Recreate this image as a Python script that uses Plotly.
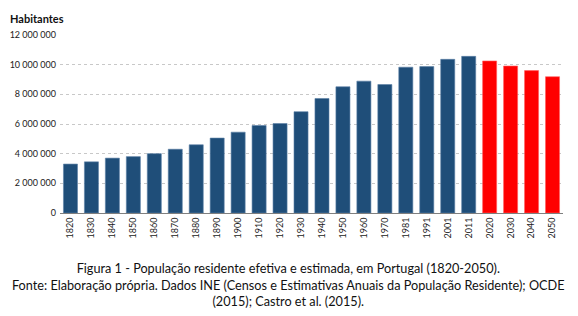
import plotly.graph_objects as go

years = ["1820", "1830", "1840", "1850", "1860", "1870", "1880", "1890", "1900", "1910",
         "1920", "1930", "1940", "1950", "1960", "1970", "1981", "1991", "2001", "2011",
         "2020", "2030", "2040", "2050"]
population = [3300000, 3450000, 3700000, 3800000, 4000000, 4300000, 4600000, 5050000,
              5450000, 5900000, 6030000, 6830000, 7720000, 8510000, 8890000, 8660000,
              9830000, 9870000, 10360000, 10560000, 10250000, 9910000, 9600000, 9190000]
estimated_from = "2020"
tick_vals = [0, 2000000, 4000000, 6000000, 8000000, 10000000, 12000000]
tick_text = ["0", "2 000 000", "4 000 000", "6 000 000", "8 000 000", "10 000 000", "12 000 000"]

idx = years.index(estimated_from)
colors = ["#1F4E79"] * idx + ["#FF0000"] * (len(years) - idx)
line_colors = ["#5A7FA6"] * idx + ["#FF6060"] * (len(years) - idx)

fig = go.Figure(go.Bar(
    x=years, y=population,
    marker=dict(color=colors, line=dict(color=line_colors, width=0.6)),
))

tickfont = dict(size=9, family="Lato, Open Sans, sans-serif", color="#222")

fig.update_layout(
    width=570, height=308,
    margin=dict(l=52, r=15, t=27, b=103, autoexpand=False),
    paper_bgcolor="white", plot_bgcolor="white",
    bargap=0.33,
    showlegend=False,
    font=dict(family="Lato, Open Sans, sans-serif", size=9, color="#222"),
    xaxis=dict(
        type="category", tickangle=-90, showgrid=False, automargin=False,
        showline=True, linecolor="#7f7f7f", linewidth=1,
        ticks="", tickfont=tickfont,
    ),
    yaxis=dict(
        range=[0, 12000000], tickvals=tick_vals, ticktext=tick_text, automargin=False,
        showgrid=True, gridcolor="#c8c8c8", griddash="dot", gridwidth=1,
        zeroline=False, showline=False, ticks="", ticklabelstandoff=3,
        tickfont=tickfont,
    ),
    annotations=[
        dict(text="<b>Habitantes</b>", xref="paper", yref="paper", x=-0.1034, y=1.0955,
             xanchor="left", yanchor="middle", showarrow=False,
             font=dict(size=11, family="Lato, Open Sans, sans-serif", color="#111")),
        dict(text="Figura 1 - População residente efetiva e estimada, em Portugal (1820-2050).<br>"
                  "Fonte: Elaboração própria. Dados INE (Censos e Estimativas Anuais da População Residente); OCDE<br>"
                  "(2015); Castro et al. (2015).",
             xref="paper", yref="paper", x=0.455, y=-0.255, xanchor="center", yanchor="top",
             align="center", showarrow=False,
             font=dict(size=12.7, family="Lato, Open Sans, sans-serif", color="#111")),
    ],
)

fig.write_html("out.html")
